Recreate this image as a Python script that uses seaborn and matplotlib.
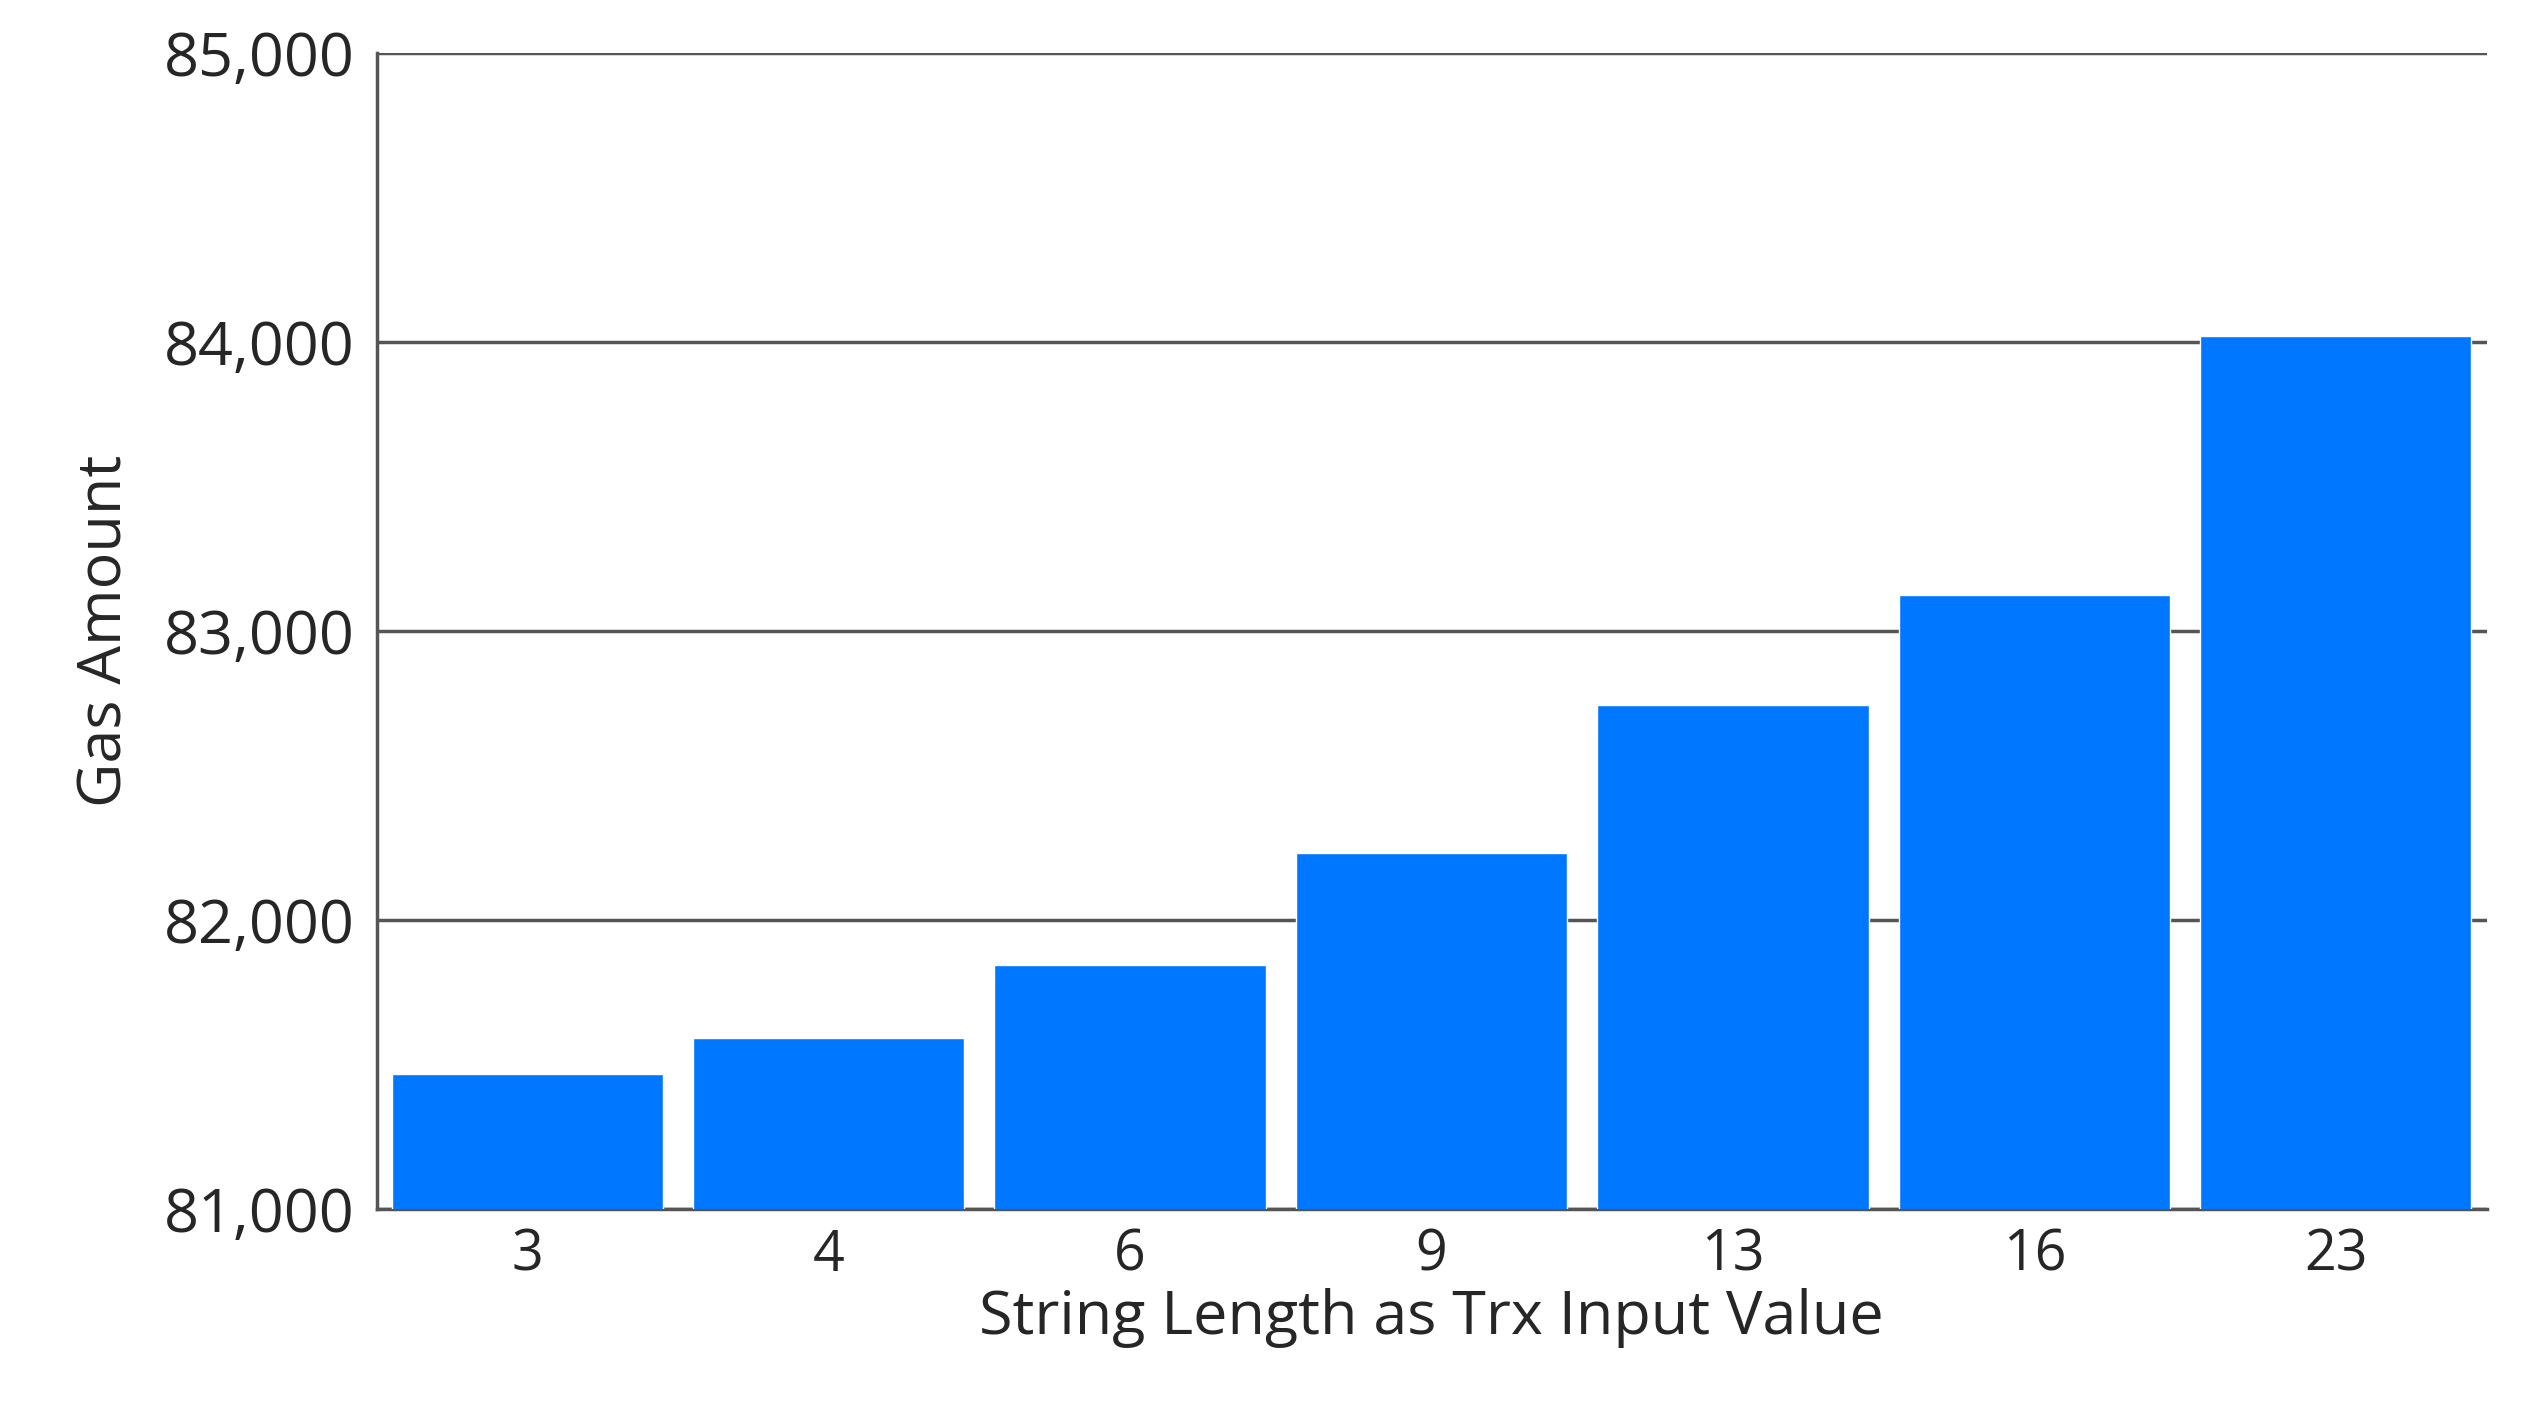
import matplotlib
matplotlib.use("Agg")
import matplotlib.pyplot as plt
import seaborn as sns
import pandas as pd

categories = ["3", "4", "6", "9", "13", "16", "23"]
gas = [81466, 81590, 81843, 82230, 82742, 83124, 84022]
yticks = [81000, 82000, 83000, 84000, 85000]

sns.set_style("white")
plt.rcParams['font.family'] = ['Open Sans', 'DejaVu Sans']

fig = plt.figure(figsize=(25.27, 14.02), dpi=100)
ax = fig.add_axes([0.149, 0.138, 0.835, 0.824])
df = pd.DataFrame({"x": categories, "y": gas})
sns.barplot(data=df, x="x", y="y", color="#0077FF", saturation=1, width=0.9, ax=ax, zorder=3)
ax.set_ylim(81000, 85000)
ax.set_xlim(-0.5, 6.5)
ax.set_yticks(yticks)
ax.set_yticklabels([f"{v:,}" for v in yticks])
ax.yaxis.grid(True, color="#555555", linewidth=2.5, zorder=0)
for s in ["right", "top"]:
    ax.spines[s].set_visible(False)
for s in ["left", "bottom"]:
    ax.spines[s].set_color("#555555")
    ax.spines[s].set_linewidth(2.5)
ax.tick_params(axis="y", labelsize=44, length=12, width=2.5, color="#555555", pad=4)
ax.tick_params(axis="x", labelsize=40, length=10, width=2.5, color="#555555", pad=4)
ax.set_xlabel("String Length as Trx Input Value", fontsize=44, labelpad=2)
ax.set_ylabel("Gas Amount", fontsize=44, labelpad=20)
fig.savefig("out.png", dpi=100)
